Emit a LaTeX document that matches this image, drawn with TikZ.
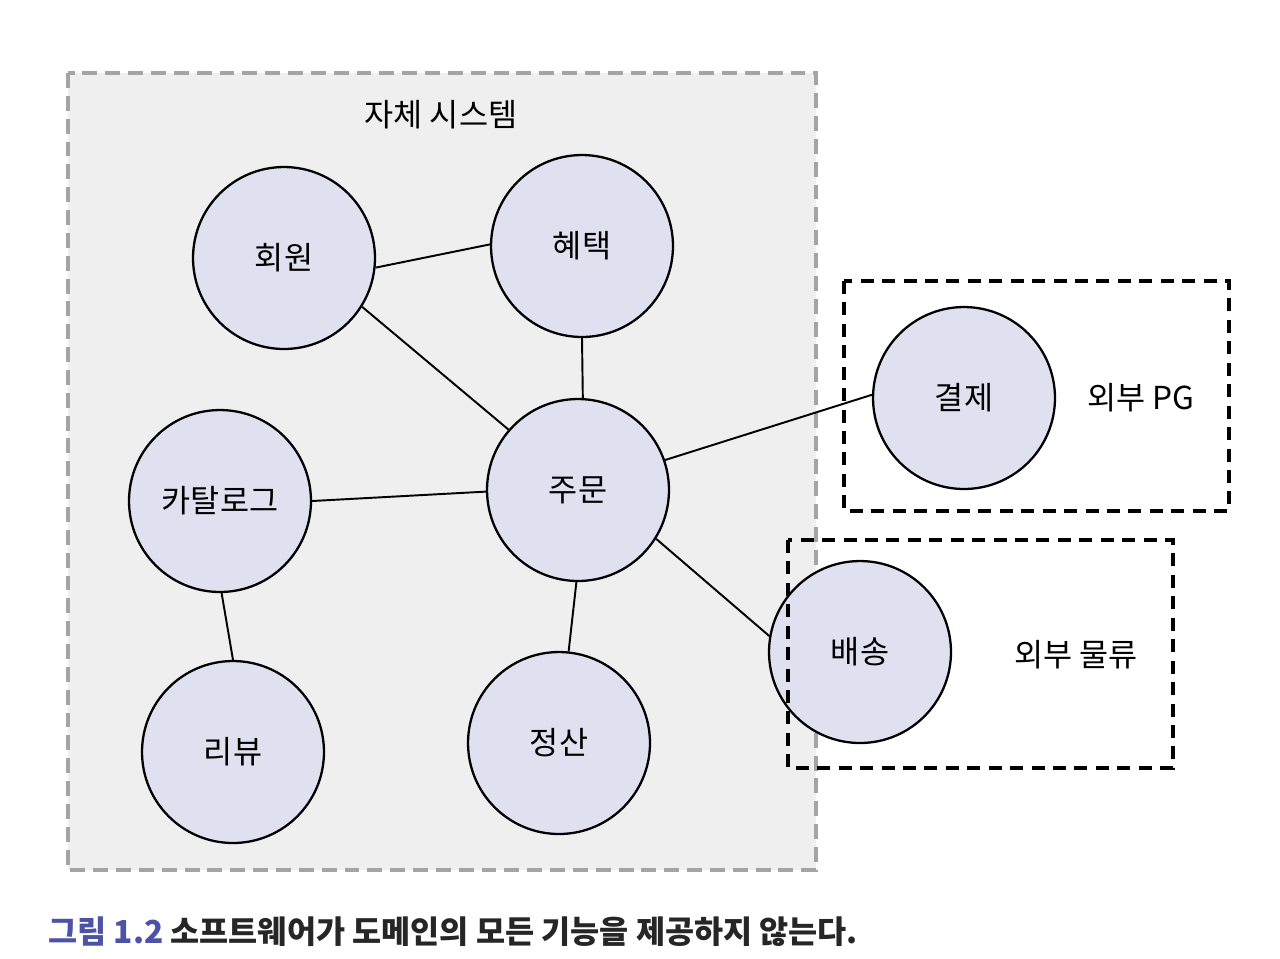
\documentclass[tikz,border=0pt]{standalone}
\usepackage{fontspec}
\setmainfont{Noto Sans CJK KR}
\definecolor{bubble}{HTML}{E0E1F0}
\definecolor{ownbg}{HTML}{EFEFEF}
\definecolor{owndash}{HTML}{A4A4A4}
\definecolor{figblue}{HTML}{4C52A6}
\tikzset{
  dombubble/.style={circle, draw, line width=1.3pt, fill=bubble, minimum size=3.64cm, inner sep=0pt},
  link/.style={line width=1.1pt},
  extbox/.style={draw, line width=2pt, dash pattern=on 7.4pt off 4.8pt},
  plaintext/.style={inner sep=0pt}
}
\begin{document}
\begin{tikzpicture}[x=0.02cm, y=-0.02cm, font=\fontsize{18}{21}\selectfont]
    \useasboundingbox (0,0) rectangle (1280,958);
    % own system
    \draw [owndash, fill=ownbg, line width=2pt, dash pattern=on 8.5pt off 4.5pt] (68,73) rectangle (816,870);
    \node [plaintext] (own) at (441,115) {자체 시스템};
    % domains
    \node [dombubble] (member)  at (284,258) {회원};
    \node [dombubble] (benefit) at (582,246) {혜택};
    \node [dombubble] (order)   at (578,490) {주문};
    \node [dombubble] (catalog) at (220,501) {카탈로그};
    \node [dombubble] (review)  at (233,752) {리뷰};
    \node [dombubble] (settle)  at (559,743) {정산};
    \node [dombubble] (payment) at (964,398) {결제};
    \node [dombubble] (ship)    at (860,652) {배송};
    % links
    \draw [link] (member.-6) -- (benefit.179);
    \draw [link] (member.-32) -- (order.139);
    \draw [link] (benefit.south) -- (order.87.5);
    \draw [link] (catalog.east) -- (order.181);
    \draw [link] (catalog.-89) -- (review.north);
    \draw [link] (order.-91) -- (settle.84);
    \draw [link] (order.19) -- (payment.178);
    \draw [link] (order.-32) -- (ship.170.5);
    % external
    \draw [extbox] (844,281) rectangle (1229,511);
    \node [plaintext] (pg) at (1141,398) {외부 PG};
    \draw [extbox] (788,540) rectangle (1173,768);
    \node [plaintext] (logis) at (1076,655) {외부 물류};
    % caption
    \node [plaintext, anchor=west] (caption) at (48,932)
      {\bfseries\color{figblue}그림 1.2 \color{black!85}소프트웨어가 도메인의 모든 기능을 제공하지 않는다.};
\end{tikzpicture}
\end{document}
